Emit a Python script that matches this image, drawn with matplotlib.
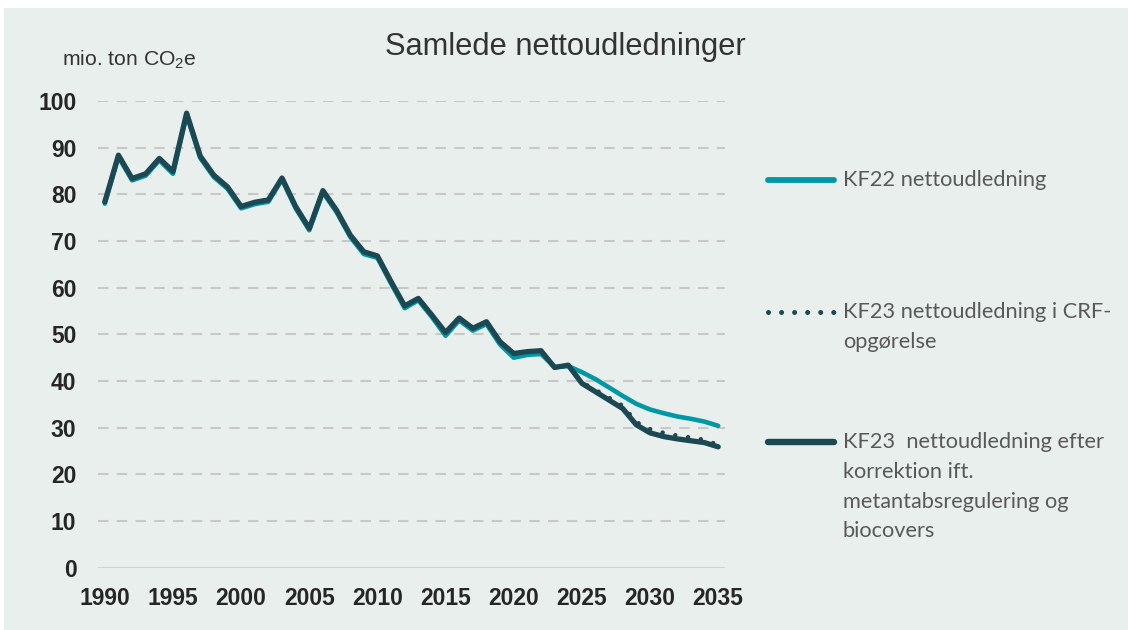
import matplotlib.pyplot as plt
from matplotlib.patches import Rectangle
from matplotlib.lines import Line2D

plt.rcParams['font.family'] = ['Liberation Sans', 'DejaVu Sans']
plt.rcParams['mathtext.fontset'] = 'custom'
plt.rcParams['mathtext.rm'] = 'Liberation Sans'

years = list(range(1990, 2036))

# KF22 nettoudledning
kf22 = [78.0, 88.0, 83.0, 84.0, 87.3, 84.4, 97.0, 87.8, 83.7, 81.2,
        77.0, 77.9, 78.4, 83.2, 77.0, 72.3, 80.4, 76.2, 70.9, 67.2,
        66.4, 60.9, 55.6, 57.3, 53.7, 49.7, 53.0, 50.8, 52.2, 47.8,
        45.0, 45.6, 45.8, 43.0, 43.2, 41.9, 40.4, 38.6, 36.8, 35.1,
        33.9, 33.1, 32.4, 31.9, 31.3, 30.4]

# KF23 nettoudledning i CRF-opgoerelse
kf23_crf = [78.4, 88.4, 83.4, 84.4, 87.7, 84.9, 97.4, 88.2, 84.1, 81.6,
            77.4, 78.3, 78.8, 83.5, 77.4, 72.7, 80.8, 76.6, 71.3, 67.7,
            66.8, 61.3, 56.1, 57.7, 54.1, 50.4, 53.5, 51.3, 52.7, 48.4,
            45.9, 46.3, 46.5, 42.9, 43.4, 39.7, 38.1, 36.4, 34.7, 31.2,
            29.7, 28.9, 28.3, 27.9, 27.4, 26.3]

# KF23 nettoudledning efter korrektion
kf23_korr = [78.4, 88.4, 83.4, 84.4, 87.7, 84.9, 97.4, 88.2, 84.1, 81.6,
             77.4, 78.3, 78.8, 83.5, 77.4, 72.7, 80.8, 76.6, 71.3, 67.7,
             66.8, 61.3, 56.1, 57.7, 54.1, 50.4, 53.5, 51.3, 52.7, 48.4,
             45.9, 46.3, 46.5, 42.9, 43.4, 39.5, 37.7, 35.9, 34.1, 30.6,
             28.9, 28.1, 27.6, 27.2, 26.8, 25.9]

legend_lines = [
    ["KF22 nettoudledning"],
    ["KF23 nettoudledning i CRF-", "opgørelse"],
    ["KF23  nettoudledning efter", "korrektion ift.", "metantabsregulering og", "biocovers"],
]

cyan = "#0098A6"
dark = "#1C4854"
bg = "#E9EFEC"
W, H = 1128, 630

fig = plt.figure(figsize=(11.28, 6.3), dpi=100, facecolor="white")
fig.patches.append(Rectangle((4 / W, 0), 1, (H - 8) / H, transform=fig.transFigure,
                             facecolor=bg, edgecolor="none", zorder=-10))

ax = fig.add_axes([98 / W, (H - 567.7) / H, 627 / W, 466.7 / H])
ax.set_facecolor(bg)
ax.patch.set_alpha(0)

ax.plot(years, kf22, color=cyan, lw=3.3, solid_capstyle="round", solid_joinstyle="round", zorder=3)
ax.plot(years, kf23_korr, color=dark, lw=3.8, solid_capstyle="round", solid_joinstyle="round", zorder=4)
ax.plot(years, kf23_crf, color=dark, lw=3.2, linestyle=(0, (0.01, 2.9)),
        dash_capstyle="round", zorder=5)

ax.set_xlim(1989.5, 2035.5)
ax.set_ylim(0, 100)
ax.set_yticks(range(0, 101, 10))
ax.set_xticks(range(1990, 2036, 5))
for y in range(10, 101, 10):
    ax.axhline(y, color="#C8C8C8", lw=1.5, linestyle=(0, (5, 4)), zorder=1)
ax.axhline(0, color="#D2D2D2", lw=1.5, zorder=1)

for s in ax.spines.values():
    s.set_visible(False)
ax.tick_params(length=0, labelsize=16.5, labelcolor="#262626")
ax.tick_params(axis="x", pad=14)
ax.tick_params(axis="y", pad=15.5)
for lab in ax.get_xticklabels() + ax.get_yticklabels():
    lab.set_fontweight("bold")

fig.text(565 / W, 1 - 47 / H, "Samlede nettoudledninger", ha="center", va="center",
         fontsize=22.2, color="#333333")
fig.text(62 / W, 1 - 60 / H, r"mio. ton CO$_\mathrm{2}$e", ha="left", va="center",
         fontsize=15.2, color="#333333")

# legend
styles = [dict(color=cyan, lw=4.2, solid_capstyle="round"),
          dict(color=dark, lw=3.6, linestyle=(0, (0.01, 2.6)), dash_capstyle="round"),
          dict(color=dark, lw=4.6, solid_capstyle="round")]
ys = [180, 312, 442]
for st, y0, lines in zip(styles, ys, legend_lines):
    fig.add_artist(Line2D([768 / W, 834 / W], [1 - y0 / H, 1 - y0 / H],
                          transform=fig.transFigure, **st))
    for i, t in enumerate(lines):
        fig.text(843 / W, 1 - (y0 + i * 29.8) / H, t, ha="left", va="center",
                 fontsize=15.7, color="#595959", family=["Lato", "DejaVu Sans"])

fig.savefig("out.png", dpi=100, facecolor="white")
